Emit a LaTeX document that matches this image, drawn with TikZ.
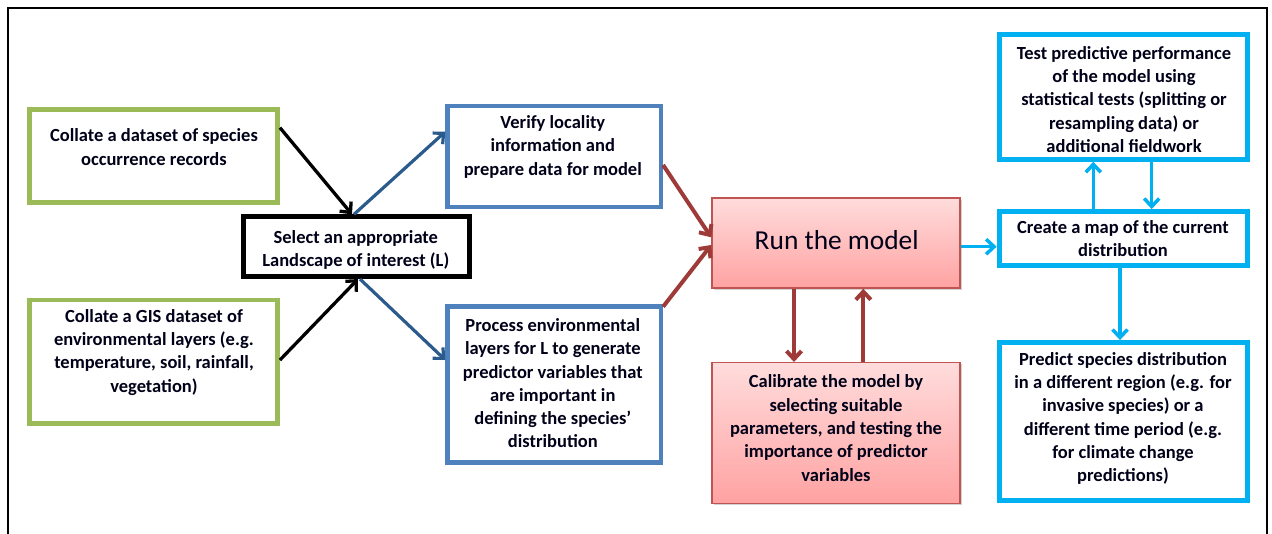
\documentclass[tikz,border=0pt]{standalone}
\usepackage{fontspec}
\setmainfont{Carlito}
\usetikzlibrary{arrows.meta,shadows}
\definecolor{grn}{HTML}{9BBB59}
\definecolor{blu}{HTML}{4F81BD}
\definecolor{dblu}{HTML}{2B5A8C}
\definecolor{dred}{HTML}{9E3B39}
\definecolor{cyn}{HTML}{00B0F0}
\definecolor{pinktop}{HTML}{FFDCDC}
\definecolor{pinkbot}{HTML}{FFA2A2}
\definecolor{redbd}{HTML}{BE5553}
\tikzset{
  box/.style={draw, fill=white, inner sep=0pt},
  gbox/.style={box, draw=grn, line width=4.5pt},
  bbox/.style={box, draw=blu, line width=4.5pt},
  kbox/.style={box, draw=black, line width=5pt},
  cbox/.style={box, draw=cyn, line width=5pt},
  rbox/.style={draw=redbd, line width=1.5pt, top color=pinktop, bottom color=pinkbot,
     inner sep=0pt, drop shadow={shadow xshift=1.5pt, shadow yshift=-1.5pt, opacity=0.35, fill=gray}},
  txt/.style={align=center, font=\bfseries\fontsize{18.5pt}{23.3pt}\selectfont, inner sep=0pt, text=black!90!blue},
  tip/.style={-{Straight Barb[length=8pt, width=15pt]}},
  karrow/.style={tip, draw=black, line width=3.3pt},
  barrow/.style={tip, draw=dblu, line width=3.2pt},
  rarrow/.style={tip, draw=dred, line width=4pt},
  carrow/.style={tip, draw=cyn, line width=3.5pt},
}
\begin{document}
\begin{tikzpicture}[x=1pt,y=-1pt]
\useasboundingbox (0,0) rectangle (1272,533);
\draw[line width=2pt] (8,545) -- (8,8) -- (1267,8) -- (1267,545);

% boxes
\node[gbox, minimum width=248pt, minimum height=93pt] (g1) at (153.7,156.1) {};
\node[gbox, minimum width=248pt, minimum height=123.5pt] (g2) at (153.7,361.8) {};
\node[kbox, minimum width=226pt, minimum height=59.7pt] (sel) at (356,246.7) {};
\node[bbox, minimum width=213.3pt, minimum height=101pt] (ver) at (554.2,156.3) {};
\node[bbox, minimum width=213.3pt, minimum height=156pt] (pro) at (554.2,384.5) {};
\node[rbox, minimum width=248pt, minimum height=90pt] (run) at (836,243) {};
\node[rbox, minimum width=248pt, minimum height=140.6pt] (cal) at (836,433) {};
\node[cbox, minimum width=248.3pt, minimum height=125pt] (tst) at (1123.3,96.7) {};
\node[cbox, minimum width=248.3pt, minimum height=54.3pt] (map) at (1123.3,238.7) {};
\node[cbox, minimum width=248.3pt, minimum height=158.3pt] (pre) at (1123.3,421.7) {};

% texts
\node[txt] (g1t) at (154,147.2) {Collate a dataset of species\\occurrence records};
\node[txt] (g2t) at (154,352.2) {Collate a GIS dataset of\\environmental layers (e.g.\\temperature, soil, rainfall,\\vegetation)};
\node[txt] (selt) at (355.8,250) {Select an appropriate\\Landscape of interest (L)};
\node[txt] (vert) at (552.8,146.7) {Verify locality\\information and\\prepare data for model};
\node[txt] (prot) at (552.8,383.3) {Process environmental\\layers for L to generate\\predictor variables that\\are important in\\defining the species’\\distribution};
\node[txt, font=\fontsize{27.4pt}{30pt}\selectfont] (runt) at (836.7,240) {Run the model};
\node[txt] (calt) at (836,428) {Calibrate the model by\\selecting suitable\\parameters, and testing the\\importance of predictor\\variables};
\node[txt] (tstt) at (1124,99.5) {Test predictive performance\\of the model using\\statistical tests (splitting or\\resampling data) or\\additional fieldwork};
\node[txt] (mapt) at (1123,238.3) {Create a map of the current\\distribution};
\node[txt] (pret) at (1123,418.3) {Predict species distribution\\in a different region (e.g. for\\invasive species) or a\\different time period (e.g.\\for climate change\\predictions)};

% connectors
\draw[karrow] (g1.east |- 0,127.7) -- (sel.north -| 352,0);
\draw[karrow] (g2.east |- 0,360) -- (sel.south -| 358,0);
\draw[barrow] (sel.north -| 354,0) -- (ver.west |- 0,131.7);
\draw[barrow] (sel.south -| 360,0) -- (pro.west |- 0,360);
\draw[rarrow] (ver.east |- 0,165) -- (run.west |- 0,237.3);
\draw[rarrow] (pro.east |- 0,306.7) -- (run.west |- 0,245);
\draw[rarrow] (run.south -| 794,0) -- (cal.north -| 794,0);
\draw[rarrow] (cal.north -| 863.3,0) -- (run.south -| 863.3,0);
\draw[carrow] (run.east |- 0,246.7) -- (map.west |- 0,246.7);
\draw[carrow] (map.north -| 1093.3,0) -- (tst.south -| 1093.3,0);
\draw[carrow] (tst.south -| 1151.7,0) -- (map.north -| 1151.7,0);
\draw[carrow] (map.south -| 1120,0) -- (pre.north -| 1120,0);
\end{tikzpicture}
\end{document}
